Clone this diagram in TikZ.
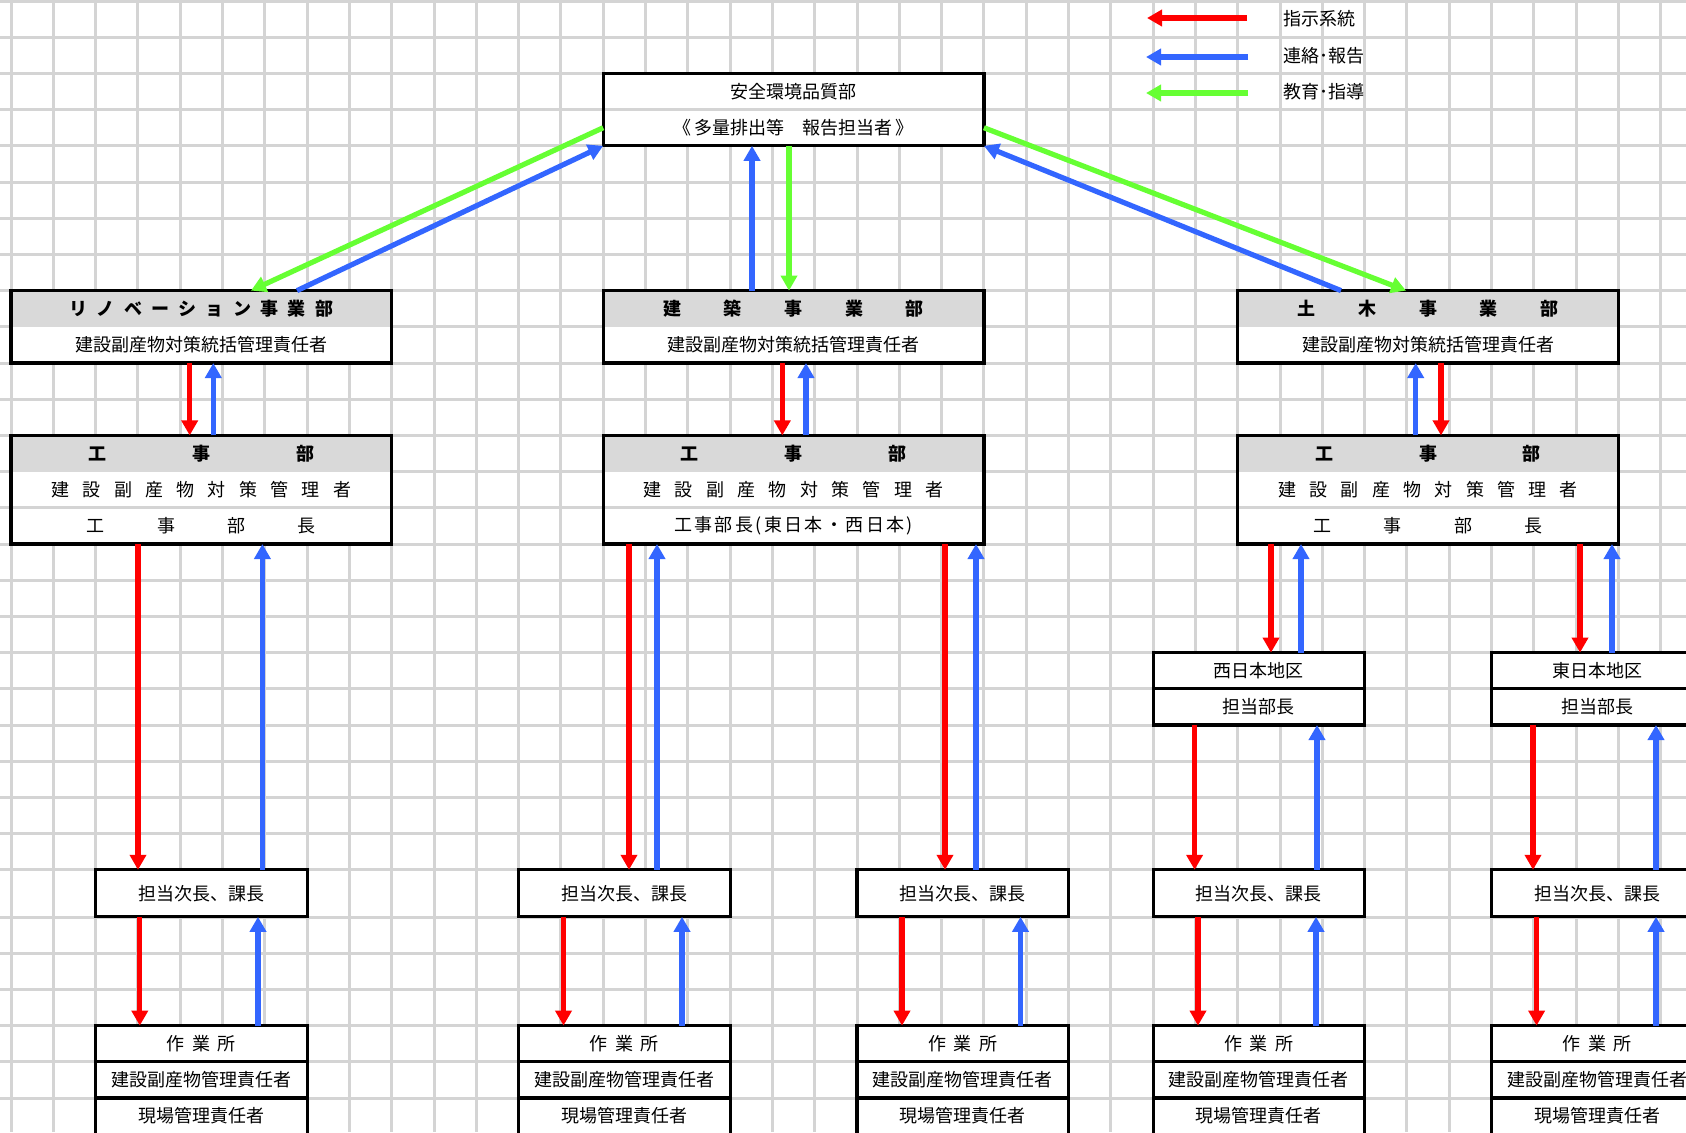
\documentclass[tikz,border=0pt]{standalone}
\usepackage{fontspec}
\setmainfont{Noto Sans CJK JP}
\usetikzlibrary{arrows.meta,positioning}
\definecolor{gridcol}{RGB}{212,212,212}
\definecolor{headcol}{RGB}{217,217,217}
\definecolor{shijicol}{RGB}{255,0,0}
\definecolor{renrakucol}{RGB}{51,102,255}
\definecolor{kyoikucol}{RGB}{102,255,51}
\newcommand\cellfont{\fontsize{9pt}{11pt}\selectfont}
\makeatletter
\newcommand\jspread[2]{{\def\js@sep{}\@tfor\js@c:=#2\do{\js@sep\js@c\def\js@sep{\hspace{#1}}}}}
\makeatother
\tikzset{
  gridline/.style={line width=1.5pt, color=gridcol},
  cell/.style={rectangle, inner sep=0pt, outer sep=0pt, minimum height=18.1pt, fill=white, font=\cellfont, anchor=north west},
  wide/.style={cell, minimum width=190.35pt},
  narrow/.style={cell, minimum width=105.75pt},
  head/.style={fill=headcol, font=\cellfont\bfseries},
  frame/.style={line width=1.6pt, draw=black},
  sepgray/.style={line width=1.5pt, draw=gridcol},
  shiji/.style={line width=2.6pt, color=shijicol, -{Triangle[length=7.5pt,width=8pt]}},
  renraku/.style={line width=2.6pt, color=renrakucol, -{Triangle[length=7.5pt,width=8pt]}},
  kyoiku/.style={line width=2.6pt, color=kyoikucol, -{Triangle[length=7.5pt,width=8pt]}}
}
\begin{document}
\begin{tikzpicture}[x=0.5pt,y=-0.5pt]
  \useasboundingbox[fill=white] (0,0) rectangle (1686,1132);
  % grid
  \foreach \c in {0,...,39}
    \draw[gridline] (11+42.3*\c,0) -- (11+42.3*\c,1132);
  \foreach \r in {0,...,24}
    \draw[gridline] (0,1+36.2*\r) -- (1686,1+36.2*\r);
  \foreach \r in {0,...,6}
    \draw[gridline] (0,917+36.2*\r) -- (1686,917+36.2*\r);

  % legend
  \node[anchor=west, inner sep=0pt, font=\cellfont] (leg1) at (1283,19) {指示系統};
  \node[anchor=west, inner sep=0pt, font=\cellfont] (leg2) at (1283,56) {連絡･報告};
  \node[anchor=west, inner sep=0pt, font=\cellfont] (leg3) at (1283,92) {教育･指導};
  \coordinate (leg1a) at (1247,18);
  \coordinate (leg1b) at (1147,18);
  \coordinate (leg2a) at (1248,57);
  \coordinate (leg2b) at (1146,57);
  \coordinate (leg3a) at (1248,93);
  \coordinate (leg3b) at (1146,93);
  \draw[shiji] (leg1a) -- (leg1b);
  \draw[renraku] (leg2a) -- (leg2b);
  \draw[kyoiku] (leg3a) -- (leg3b);

  % top
  \node[wide] (anzen) at (603.2,73.4) {安全環境品質部};
  \node[wide, below=0pt of anzen] (anzenB) {《\,多量排出等　報告担当者\,》};
  \draw[sepgray] (anzen.south west) -- (anzen.south east);
  \draw[frame] (anzen.north west) rectangle (anzenB.south east);

  % jigyobu
  \node[wide, head] (renoH) at (11,290.6) {\jspread{4.65pt}{リノベーション事業部}};
  \node[wide, below=0pt of renoH] (reno) {建設副産物対策統括管理責任者};
  \draw[frame] (renoH.north west) rectangle (reno.south east);
  \node[wide, head] (kenH) at (603.2,290.6) {\jspread{21.3pt}{建築事業部}};
  \node[wide, below=0pt of kenH] (ken) {建設副産物対策統括管理責任者};
  \draw[frame] (kenH.north west) rectangle (ken.south east);
  \node[wide, head] (dobH) at (1237.7,290.6) {\jspread{21.3pt}{土木事業部}};
  \node[wide, below=0pt of dobH] (dob) {建設副産物対策統括管理責任者};
  \draw[frame] (dobH.north west) rectangle (dob.south east);

  % kojibu
  \node[wide, head] (ko1H) at (11,435.4) {\jspread{42.85pt}{工事部}};
  \node[wide, below=0pt of ko1H] (ko1a) {\jspread{6.65pt}{建設副産物対策管理者}};
  \node[wide, below=0pt of ko1a] (ko1b) {\jspread{26.15pt}{工事部長}};
  \draw[sepgray] (ko1a.south west) -- (ko1a.south east);
  \draw[frame] (ko1H.north west) rectangle (ko1b.south east);
  \node[wide, head] (ko2H) at (603.2,435.4) {\jspread{42.85pt}{工事部}};
  \node[wide, below=0pt of ko2H] (ko2a) {\jspread{6.65pt}{建設副産物対策管理者}};
  \node[wide, below=0pt of ko2a] (ko2b) {\jspread{1.2pt}{工事部長(東日本・西日本)}};
  \draw[sepgray] (ko2a.south west) -- (ko2a.south east);
  \draw[frame] (ko2H.north west) rectangle (ko2b.south east);
  \node[wide, head] (ko3H) at (1237.7,435.4) {\jspread{42.85pt}{工事部}};
  \node[wide, below=0pt of ko3H] (ko3a) {\jspread{6.65pt}{建設副産物対策管理者}};
  \node[wide, below=0pt of ko3a] (ko3b) {\jspread{26.15pt}{工事部長}};
  \draw[sepgray] (ko3a.south west) -- (ko3a.south east);
  \draw[frame] (ko3H.north west) rectangle (ko3b.south east);

  % chiku
  \node[narrow] (nishi) at (1153.1,652.6) {西日本地区};
  \node[narrow, below=0pt of nishi] (nishiB) {担当部長};
  \draw[frame] (nishi.north west) rectangle (nishiB.south east);
  \draw[frame] (nishi.south west) -- (nishi.south east);
  \node[narrow] (higashi) at (1491.5,652.6) {東日本地区};
  \node[narrow, below=0pt of higashi] (higashiB) {担当部長};
  \draw[frame] (higashi.north west) rectangle (higashiB.south east);
  \draw[frame] (higashi.south west) -- (higashi.south east);

  % jicho, sagyosho
  \foreach \x [count=\i] in {95.6,518.6,857,1153.1,1491.5} {
    \node[narrow, minimum height=23.5pt, frame] (ji\i) at (\x,869.8) {担当次長、課長};
    \node[narrow] (sa\i) at (\x,1025.6) {\jspread{3.75pt}{作業所}};
    \node[narrow, below=0pt of sa\i] (sb\i) {建設副産物管理責任者};
    \node[narrow, below=0pt of sb\i] (sc\i) {現場管理責任者};
    \draw[frame] (sc\i.south west) |- (sa\i.north east) -- (sc\i.south east);
    \draw[frame] (sa\i.south west) -- (sa\i.south east);
    \draw[frame] (sb\i.south west) -- (sb\i.south east);
  }

  % arrows
  \draw[kyoiku] (anzenB.west) -- (renoH.north -| 251,0);
  \draw[renraku] (renoH.north -| 297,0) -- (anzenB.south west);
  \draw[renraku] (kenH.north -| 752,0) -- (anzenB.south -| 752,0);
  \draw[kyoiku] (anzenB.south -| 789,0) -- (kenH.north -| 789,0);
  \draw[renraku] (dobH.north -| 1341,0) -- (anzenB.south east);
  \draw[kyoiku] (anzenB.east) -- (dobH.north -| 1406,0);

  \draw[shiji] (reno.south -| 189.7,0) -- (ko1H.north -| 189.7,0);
  \draw[renraku] (ko1H.north -| 213.3,0) -- (reno.south -| 213.3,0);
  \draw[shiji] (ken.south -| 782.3,0) -- (ko2H.north -| 782.3,0);
  \draw[renraku] (ko2H.north -| 806,0) -- (ken.south -| 806,0);
  \draw[renraku] (ko3H.north -| 1415.7,0) -- (dob.south -| 1415.7,0);
  \draw[shiji] (dob.south -| 1441,0) -- (ko3H.north -| 1441,0);

  \foreach \from/\to/\xr/\xb in {ko1b/ji1/138/262.4, ko2b/ji2/629/657, ko2b/ji3/945/976,
      ko3b/nishi/1271/1301, ko3b/higashi/1580/1612, nishiB/ji4/1194.6/1317, higashiB/ji5/1533/1656} {
    \draw[shiji] (\from.south -| \xr,0) -- (\to.north -| \xr,0);
    \draw[renraku] (\to.north -| \xb,0) -- (\from.south -| \xb,0);
  }
  \foreach \i/\xr/\xb in {1/139.8/258, 2/563.5/682, 3/902/1020.5, 4/1198/1316, 5/1536.6/1656} {
    \draw[shiji] (ji\i.south -| \xr,0) -- (sa\i.north -| \xr,0);
    \draw[renraku] (sa\i.north -| \xb,0) -- (ji\i.south -| \xb,0);
  }
\end{tikzpicture}
\end{document}
